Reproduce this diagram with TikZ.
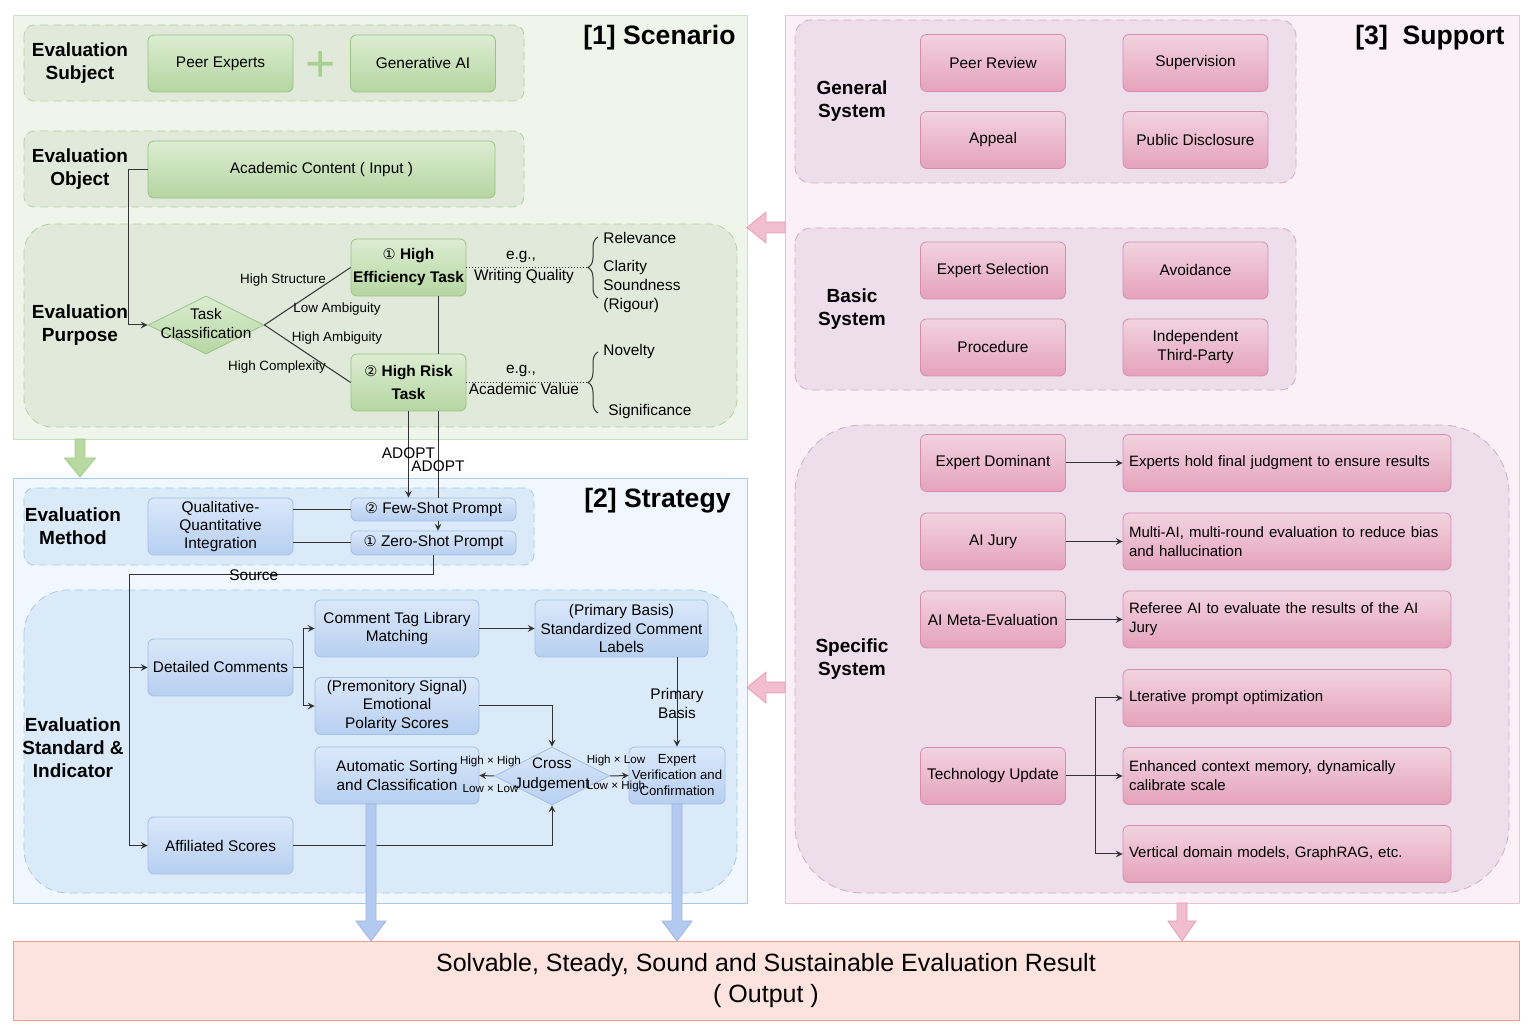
\documentclass[tikz,border=0pt]{standalone}
\usepackage{fontspec}
\setmainfont{Liberation Sans}
\newfontfamily\symfont[Scale=0.95]{DejaVu Sans}
\usetikzlibrary{shapes,calc,decorations.pathreplacing}

% panel colours
\definecolor{scfill}{HTML}{F0F5EC}
\definecolor{scline}{HTML}{CBE0BF}
\definecolor{sgfill}{HTML}{E1EADA}
\definecolor{sgline}{HTML}{B3D0A2}
\definecolor{stfill}{HTML}{F0F7FF}
\definecolor{stline}{HTML}{A7CBEC}
\definecolor{tgfill}{HTML}{DAEAF8}
\definecolor{tgline}{HTML}{A9C9E9}
\definecolor{spfill}{HTML}{FAF0F5}
\definecolor{spline}{HTML}{E5C6D7}
\definecolor{pgfill}{HTML}{EEDDEA}
\definecolor{pgline}{HTML}{CDAFC6}
\definecolor{outfill}{HTML}{FDE3DD}
\definecolor{outline}{HTML}{EB9E92}
% box colours
\definecolor{gtop}{HTML}{DCEDD2}
\definecolor{gbot}{HTML}{B5D6A1}
\definecolor{gline}{HTML}{97C383}
\definecolor{btop}{HTML}{DAE8FA}
\definecolor{bbot}{HTML}{B7CFF0}
\definecolor{bline}{HTML}{A3BFE6}
\definecolor{ptop}{HTML}{F2D3DF}
\definecolor{pbot}{HTML}{E5A2BB}
\definecolor{pline}{HTML}{D48EAB}
\definecolor{linec}{HTML}{333333}
\definecolor{plusc}{HTML}{A8D08F}
\definecolor{garfill}{HTML}{B9D9A3}
\definecolor{garline}{HTML}{A3CB8B}
\definecolor{parfill}{HTML}{F2BDCF}
\definecolor{parline}{HTML}{E5A0B8}
\definecolor{barfill}{HTML}{B4C9EF}
\definecolor{barline}{HTML}{9DB6E3}

\begin{document}
\begin{tikzpicture}[x=0.5pt, y=-0.5pt, >=stealth]
    \tikzstyle{every node}=[inner sep=1pt, align=center,
				% plain text:
				font=\fontsize{7.7}{9.2}\selectfont
					]
    \tikzstyle{gbox}=[draw=gline, top color=gtop, bottom color=gbot,
				rounded corners=3pt, minimum width=72.5pt, minimum height=28.5pt]
    \tikzstyle{bbox}=[draw=bline, top color=btop, bottom color=bbot,
				rounded corners=3pt, minimum width=72.5pt, minimum height=28.5pt]
    \tikzstyle{pbox}=[draw=pline, top color=ptop, bottom color=pbot,
				rounded corners=3pt, minimum width=72.5pt, minimum height=28.5pt]
    \tikzstyle{pwide}=[pbox, text width=158pt, inner xsep=3pt, align=left,
				font=\fontsize{7.5}{9.5}\selectfont]
    \tikzstyle{gdiam}=[diamond, draw=gline, top color=gtop, bottom color=gbot,
				inner sep=0pt, minimum width=58pt, minimum height=29pt]
    \tikzstyle{bdiam}=[diamond, draw=bline, top color=btop, bottom color=bbot,
				inner sep=0pt, minimum width=57.5pt, minimum height=29pt]
    \tikzstyle{sgrp}=[draw=sgline, fill=sgfill, dash pattern=on 4pt off 2.5pt]
    \tikzstyle{tgrp}=[draw=tgline, fill=tgfill, dash pattern=on 4pt off 2.5pt]
    \tikzstyle{pgrp}=[draw=pgline, fill=pgfill, dash pattern=on 4pt off 2.5pt]
    \tikzstyle{lbl}=[font=\bfseries\fontsize{9.5}{11.5}\selectfont]
    \tikzstyle{ttl}=[anchor=east, font=\bfseries\fontsize{13.3}{16}\selectfont]
    \tikzstyle{small}=[font=\fontsize{6.7}{8}\selectfont]
    \tikzstyle{tiny}=[font=\fontsize{5.8}{7}\selectfont]
    \tikzstyle{link}=[draw=linec, line width=0.5pt]

    \useasboundingbox (0,0) rectangle (1538,1036);

    % the three panels
    \draw[draw=scline, fill=scfill] (13,15) rectangle (747,439);
    \draw[draw=stline, fill=stfill] (13,478) rectangle (747,903);
    \draw[draw=spline, fill=spfill] (785,15) rectangle (1519,903);

    % dashed groups
    \draw[sgrp, rounded corners=5pt] (24,25) rectangle (524,101);
    \draw[sgrp, rounded corners=5pt] (24,131) rectangle (524,207);
    \draw[sgrp, rounded corners=14pt] (24,224) rectangle (737,427);
    \draw[tgrp, rounded corners=5pt] (24,488) rectangle (534,565);
    \draw[tgrp, rounded corners=22pt] (24,590) rectangle (737,893);
    \draw[pgrp, rounded corners=8pt] (795,20) rectangle (1296,183);
    \draw[pgrp, rounded corners=8pt] (795,228) rectangle (1296,390);
    \draw[pgrp, rounded corners=34pt] (795,425) rectangle (1509,893);

    \node[ttl] (scentitle) at (738,38) {[1] Scenario};
    \node[ttl] (strattitle) at (733,501) {[2] Strategy};
    \node[ttl] (supptitle) at (1507,38) {[3]~~Support};

    % [1] Scenario
    \node[lbl] (lsubject) at (80,63) {Evaluation\\Subject};
    \node[lbl] (lobject) at (80,169) {Evaluation\\Object};
    \node[lbl] (lpurpose) at (80,325) {Evaluation\\Purpose};
    \node[gbox] (peer) at (220.5,63.5) {Peer Experts};
    \node[gbox] (genai) at (423,63.5) {Generative AI};
    \node[text=plusc, font=\fontsize{26}{26}\selectfont] (plus) at (321,67) {+};
    \node[gbox, minimum width=173.5pt] (acad) at (321.5,169.5) {Academic Content ( Input )};
    \node[gdiam] (task) at (206,325) {};
    \node (tasktext) at (206,323.5) [font=\fontsize{7.7}{9.5}\selectfont] {Task\\Classification};
    \node[gbox, minimum width=57.5pt, font=\bfseries\fontsize{7.7}{11.5}\selectfont]
        (heff) at (408.5,267.5) {{\symfont\mdseries ①} High\\Efficiency Task};
    \node[gbox, minimum width=57.5pt, font=\bfseries\fontsize{7.7}{11.5}\selectfont]
        (hrisk) at (408.5,382.5) {{\symfont\mdseries ②} High Risk\\Task};

    \draw[link,->] (acad.west) -- ++(-19,0) |- (task.west);
    \draw[link] (task.east) -- (heff.west);
    \draw[link] (task.east) -- (hrisk.west);
    \node[small] (lstruct) at (283,280) {High Structure};
    \node[small] (llowamb) at (337,309) {Low Ambiguity};
    \node[small] (lhighamb) at (337,338) {High Ambiguity};
    \node[small] (lcomplex) at (277,367) {High Complexity};
    \draw[link] ($(heff.south)+(29.5,0)$) -- ($(hrisk.north)+(29.5,0)$);

    \draw[link, densely dotted] (heff.east) -- (588,267.5);
    \node (egone) at (521,257) {e.g.,};
    \node (writing) at (524,276.5) {Writing Quality};
    \draw[link, decorate, decoration={brace, amplitude=5pt}] (598,298) -- (598,237);
    \node[anchor=west] (relev) at (601,238) {Relevance};
    \node[anchor=west, align=left, font=\fontsize{7.7}{9.5}\selectfont] (clarity) at (601,287) {Clarity\\Soundness\\(Rigour)};
    \draw[link, densely dotted] (hrisk.east) -- (588,382.5);
    \node (egtwo) at (521,371) {e.g.,};
    \node (acvalue) at (524,389.5) {Academic Value};
    \draw[link, decorate, decoration={brace, amplitude=5pt}] (598,413) -- (598,352);
    \node[anchor=west] (novelty) at (601,352) {Novelty};
    \node[anchor=west] (signif) at (606,412) {Significance};

    \draw[garline, fill=garfill] (75,439) -- (85,439) -- (85,458) -- (95.5,458) -- (80,477) -- (64.5,458) -- (75,458) -- cycle;

    % [2] Strategy
    \node[lbl] (lmethod) at (73,526) {Evaluation\\Method};
    \node[lbl] (lstandard) at (73,748) {Evaluation\\Standard \&\\Indicator};
    \node[bbox] (qual) at (220.5,526.5) {Qualitative-\\Quantitative\\Integration};
    \node[bbox, minimum width=82.5pt, minimum height=11.5pt] (few) at (433.5,509.5) {{\symfont ②} Few-Shot Prompt};
    \node[bbox, minimum width=82.5pt, minimum height=12pt] (zero) at (433.5,543) {{\symfont ①} Zero-Shot Prompt};
    \draw[link] (qual.east |- few.west) -- (few.west);
    \draw[link] (qual.east |- zero.west) -- (zero.west);

    \draw[link,->] (hrisk.south) -- (hrisk.south |- few.north) node[pos=0.48] {ADOPT};
    \draw[link] ($(hrisk.south)+(29.5,0)$) -- ($(few.north)+(4.5,0)$) node[pos=0.63] {ADOPT};
    \draw[link,->] ($(few.south)+(4.5,0)$) -- ($(zero.north)+(4.5,0)$);

    \node[bbox] (detail) at (220.5,667.5) {Detailed Comments};
    \node[bbox] (affil) at (220.5,845.5) {Affiliated Scores};
    \node[bbox, minimum width=82pt] (ctl) at (397,628.5) {Comment Tag Library\\Matching};
    \node[bbox, minimum width=82pt] (emo) at (397,706) {(Premonitory Signal)\\Emotional\\Polarity Scores};
    \node[bbox, minimum width=86.5pt] (stdlab) at (621.5,628.5) {(Primary Basis)\\Standardized Comment\\Labels};
    \node[bbox, minimum width=82pt, font=\fontsize{7.7}{9.5}\selectfont] (autosort) at (397,775.5) {Automatic Sorting\\and Classification};
    \node[bdiam] (cross) at (552,776) {};
    \node (crosstext) at (552,775) [font=\fontsize{7.6}{10}\selectfont] {Cross\\Judgement};
    \node[bbox, minimum width=48pt, font=\fontsize{6.6}{8}\selectfont] (expver) at (677,775.5) {Expert\\Verification and\\Confirmation};

    \coordinate (srcbend) at (129,575);
    \draw[link] (zero.south) |- (srcbend) node[pos=0.795] {Source};
    \draw[link,->] (srcbend) |- (detail.west);
    \draw[link,->] (srcbend) |- (affil.west);
    \draw[link] (detail.east) -- ++(10,0) coordinate (detfork);
    \draw[link,->] (detfork) |- (ctl.west);
    \draw[link,->] (detfork) |- (emo.west);
    \draw[link,->] (ctl.east) -- (stdlab.west);
    \draw[link,->] (emo.east) -| (cross.north);
    \draw[link,->] (affil.east) -| (cross.south);
    \draw[link,->] (expver.north |- stdlab.south) -- (expver.north);
    \node[font=\fontsize{7.7}{9.5}\selectfont] (primbasis) at (677,703) {Primary\\Basis};
    \draw[link,->] (cross.west) -- (autosort.east);
    \draw[link,->] (cross.east) -- (expver.west);
    \node[tiny] (hh) at (490.5,762) {High × High};
    \node[tiny] (ll) at (490.5,789) {Low × Low};
    \node[tiny] (hl) at (616,761) {High × Low};
    \node[tiny] (lh) at (616,787) {Low × High};

    % [3] Support
    \node[lbl] (lgeneral) at (852,101) {General\\System};
    \node[lbl] (lbasic) at (852,309) {Basic\\System};
    \node[lbl] (lspecific) at (852,659) {Specific\\System};
    \node[pbox] (peerrev) at (993,63) {Peer Review};
    \node[pbox] (superv) at (1195.5,63) {Supervision};
    \node[pbox] (appeal) at (993,140) {Appeal};
    \node[pbox] (publicd) at (1195.5,140) {Public Disclosure};
    \node[pbox] (expsel) at (993,270.5) {Expert Selection};
    \node[pbox] (avoid) at (1195.5,270.5) {Avoidance};
    \node[pbox] (proced) at (993,347.5) {Procedure};
    \node[pbox, font=\fontsize{7.7}{9.5}\selectfont] (indep) at (1195.5,347.5) {Independent\\Third-Party};

    \node[pbox] (expdom) at (993,463) {Expert Dominant};
    \node[pbox] (aijury) at (993,541.5) {AI Jury};
    \node[pbox] (aimeta) at (993,619.5) {AI Meta-Evaluation};
    \node[pbox] (techup) at (993,776) {Technology Update};
    \node[pwide] (expdomr) at (1287,463) {Experts hold final judgment to ensure results};
    \node[pwide] (aijuryr) at (1287,541.5) {Multi-AI, multi-round evaluation to reduce bias\\and hallucination};
    \node[pwide] (aimetar) at (1287,619.5) {Referee AI to evaluate the results of the AI\\Jury};
    \node[pwide] (iterat) at (1287,698) {Lterative prompt optimization};
    \node[pwide] (context) at (1287,776) {Enhanced context memory, dynamically\\calibrate scale};
    \node[pwide] (vertdom) at (1287,854) {Vertical domain models, GraphRAG, etc.};

    \draw[link,->] (expdom.east) -- (expdomr.west);
    \draw[link,->] (aijury.east) -- (aijuryr.west);
    \draw[link,->] (aimeta.east) -- (aimetar.west);
    \draw[link] (techup.east) -- ++(30,0) coordinate (techfork);
    \draw[link,->] (techfork) |- (iterat.west);
    \draw[link,->] (techfork) -- (context.west);
    \draw[link,->] (techfork) |- (vertdom.west);

    % pink arrows towards the other panels
    \draw[parline, fill=parfill] (785,222) -- (766,222) -- (766,212) -- (747,227.5) -- (766,243) -- (766,233) -- (785,233) -- cycle;
    \draw[parline, fill=parfill] (785,682) -- (766,682) -- (766,672) -- (747,687.5) -- (766,703) -- (766,693) -- (785,693) -- cycle;

    % result
    \node[draw=outline, fill=outfill, minimum width=753pt, minimum height=39.5pt,
        font=\fontsize{12.5}{15.5}\selectfont] (result) at (766,980.5)
        {Solvable, Steady, Sound and Sustainable Evaluation Result\\( Output )};
    \draw[barline, fill=barfill] (366,804) -- (376,804) -- (376,921) -- (386,921) -- (371,941) -- (356,921) -- (366,921) -- cycle;
    \draw[barline, fill=barfill] (672,804) -- (682,804) -- (682,921) -- (692,921) -- (677,941) -- (662,921) -- (672,921) -- cycle;
    \draw[parline, fill=parfill] (1177,903) -- (1187,903) -- (1187,921) -- (1196,921) -- (1182,941) -- (1168,921) -- (1177,921) -- cycle;
\end{tikzpicture}
\end{document}
